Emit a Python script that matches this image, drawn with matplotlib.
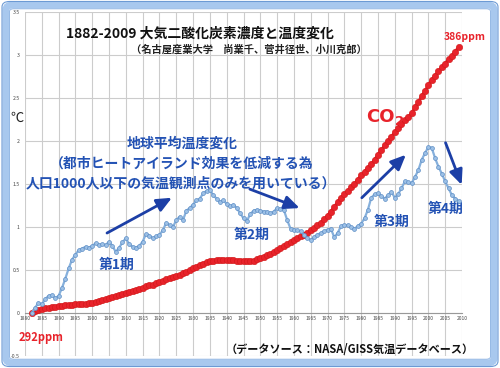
import numpy as np
import matplotlib
matplotlib.use('Agg')
import matplotlib.pyplot as plt
from matplotlib.patches import FancyBboxPatch

plt.rcParams['font.family'] = ['Noto Sans CJK JP', 'DejaVu Sans']

# Years 1882-2009
years = np.arange(1882, 2010)

# Global mean temperature change (chart units, deg C offset)
temp = [
    0.00, 0.06, 0.12, 0.10, 0.16, 0.20, 0.21, 0.17, 0.20, 0.29,
    0.40, 0.52, 0.62, 0.68, 0.73, 0.75, 0.77, 0.76, 0.78, 0.81,
    0.79, 0.80, 0.79, 0.83, 0.78, 0.71, 0.76, 0.82, 0.87, 0.80,
    0.77, 0.76, 0.78, 0.83, 0.92, 0.90, 0.87, 0.89, 0.91, 0.96,
    1.05, 1.02, 1.00, 1.08, 1.12, 1.08, 1.19, 1.22, 1.26, 1.31,
    1.33, 1.39, 1.42, 1.43, 1.37, 1.33, 1.29, 1.31, 1.27, 1.24,
    1.26, 1.22, 1.16, 1.10, 1.07, 1.15, 1.19, 1.20, 1.19, 1.18,
    1.18, 1.16, 1.18, 1.22, 1.21, 1.20, 1.08, 0.98, 0.97, 0.96,
    0.95, 0.91, 0.87, 0.85, 0.88, 0.91, 0.93, 0.95, 0.97, 0.98,
    0.88, 0.93, 1.01, 1.02, 1.02, 1.00, 0.98, 1.01, 1.04, 1.10,
    1.20, 1.34, 1.38, 1.39, 1.36, 1.33, 1.37, 1.41, 1.34, 1.38,
    1.45, 1.53, 1.52, 1.51, 1.58, 1.66, 1.78, 1.86, 1.93, 1.92,
    1.80, 1.70, 1.62, 1.53, 1.45, 1.37, 1.33, 1.30,
]

# Atmospheric CO2 (scaled to the same axis, 292ppm -> 0, 386ppm -> ~3.1)
co2 = [
    0.00, 0.02, 0.03, 0.045, 0.055, 0.06, 0.07, 0.075, 0.08, 0.085,
    0.09, 0.09, 0.095, 0.10, 0.10, 0.105, 0.11, 0.115, 0.12, 0.13,
    0.14, 0.15, 0.16, 0.17, 0.185, 0.20, 0.21, 0.225, 0.235, 0.25,
    0.26, 0.27, 0.28, 0.295, 0.31, 0.32, 0.33, 0.345, 0.36, 0.375,
    0.39, 0.405, 0.42, 0.43, 0.445, 0.46, 0.48, 0.50, 0.52, 0.54,
    0.56, 0.575, 0.59, 0.60, 0.61, 0.615, 0.62, 0.62, 0.62, 0.62,
    0.615, 0.61, 0.605, 0.60, 0.60, 0.605, 0.61, 0.625, 0.64, 0.655,
    0.67, 0.69, 0.71, 0.73, 0.755, 0.78, 0.805, 0.83, 0.85, 0.87,
    0.89, 0.91, 0.935, 0.96, 0.99, 1.02, 1.05, 1.09, 1.13, 1.18,
    1.23, 1.29, 1.34, 1.38, 1.42, 1.46, 1.50, 1.55, 1.60, 1.64,
    1.69, 1.73, 1.78, 1.84, 1.89, 1.95, 2.00, 2.05, 2.10, 2.15,
    2.20, 2.24, 2.28, 2.32, 2.39, 2.45, 2.52, 2.58, 2.65, 2.71,
    2.76, 2.81, 2.86, 2.90, 2.95, 2.99, 3.04, 3.09,
]

x_ticks = list(range(1880, 2011, 5))
y_ticks = [-0.5, 0, 0.5, 1, 1.5, 2, 2.5, 3, 3.5]
y_tick_labels = ['-0.5', '0', '0.5', '1', '1.5', '2', '2.5', '3', '3.5']

BLUE_TXT = '#2352b4'
ARROW = '#1c3fa6'
RED = '#e8232b'

fig = plt.figure(figsize=(5.0, 3.68), dpi=100)

# outer frame
fig.patches.append(FancyBboxPatch((0.012, 0.014), 0.976, 0.972,
                                  boxstyle='round,pad=0,rounding_size=0.012',
                                  transform=fig.transFigure, fill=False,
                                  edgecolor='#a8c8ee', linewidth=5))
fig.patches.append(FancyBboxPatch((0.004, 0.004), 0.992, 0.992,
                                  boxstyle='round,pad=0,rounding_size=0.015',
                                  transform=fig.transFigure, fill=False,
                                  edgecolor='#6c9ad4', linewidth=0.8))
fig.patches.append(FancyBboxPatch((0.019, 0.024), 0.962, 0.952,
                                  boxstyle='round,pad=0,rounding_size=0.008',
                                  transform=fig.transFigure, fill=False,
                                  edgecolor='#8cb2e2', linewidth=0.6))

ax = fig.add_axes([0.05, 0.0326, 0.874, 0.9348])
ax.set_xlim(1880, 2010)
ax.set_ylim(-0.5, 3.5)

# x axis sits on the zero line
for side in ['top', 'right', 'left']:
    ax.spines[side].set_visible(False)
ax.spines['bottom'].set_position(('data', 0))
ax.spines['bottom'].set_color('#999999')
ax.spines['bottom'].set_linestyle((0, (2, 1)))
ax.spines['bottom'].set_linewidth(0.8)

ax.set_xticks(x_ticks)
ax.set_xticklabels([str(y) for y in x_ticks])
ax.set_yticks(y_ticks)
ax.set_yticklabels(y_tick_labels)
ax.tick_params(axis='x', length=0, pad=2.5, labelsize=3.5, labelcolor='#444444')
ax.tick_params(axis='y', length=0, pad=4, labelsize=3.7, labelcolor='#444444')
ax.grid(True, color='#cccccc', linewidth=0.8)
ax.set_axisbelow(True)

# series
ax.plot(years, co2, color=RED, linewidth=2.2, marker='o', markersize=4.6,
        markerfacecolor=RED, markeredgecolor='#d01818', markeredgewidth=0.4, zorder=3)
ax.plot(years, temp, color='#86b0dc', linewidth=1.6, marker='o', markersize=2.8,
        markerfacecolor='#9cc0e6', markeredgecolor='#5f8fc6', markeredgewidth=0.5, zorder=4)

# arrows
arrows = [((1904.4, 0.93), (1923.7, 1.34)),
          ((1946.9, 1.44), (1961.7, 1.22)),
          ((1980.2, 1.34), (1993.3, 1.84)),
          ((2005.1, 1.98), (2009.9, 1.49))]
for tail, tip in arrows:
    ax.annotate('', xy=tip, xytext=tail,
                arrowprops=dict(arrowstyle='-|>,head_length=0.9,head_width=0.4',
                                color=ARROW, linewidth=2, shrinkA=0, shrinkB=0),
                zorder=5, annotation_clip=False)

# annotation texts
ax.text(1926.7, 1.97, '地球平均温度変化', ha='center', va='center',
        fontsize=10, fontweight='bold', color=BLUE_TXT)
ax.text(1926.7, 1.74, '（都市ヒートアイランド効果を低減する為', ha='center', va='center',
        fontsize=10, fontweight='bold', color=BLUE_TXT)
ax.text(1926.4, 1.51, '人口1000人以下の気温観測点のみを用いている）', ha='center', va='center',
        fontsize=10, fontweight='bold', color=BLUE_TXT)
ax.text(1907.3, 0.56, '第1期', ha='center', va='center', fontsize=10,
        fontweight='bold', color=BLUE_TXT)
ax.text(1947.5, 0.91, '第2期', ha='center', va='center', fontsize=10,
        fontweight='bold', color=BLUE_TXT)
ax.text(1989.1, 1.06, '第3期', ha='center', va='center', fontsize=10,
        fontweight='bold', color=BLUE_TXT)
ax.text(2005.1, 1.21, '第4期', ha='center', va='center', fontsize=10,
        fontweight='bold', color=BLUE_TXT)

ax.text(1990.0, 2.28, 'CO', ha='right', va='center', fontsize=13,
        fontweight='bold', color=RED, family='DejaVu Sans', zorder=6)
ax.text(1990.2, 2.23, '2', ha='left', va='center', fontsize=9.5,
        fontweight='bold', color=RED, family='DejaVu Sans', zorder=6)
ax.text(2010.8, 3.21, '386ppm', ha='center', va='center', fontsize=7.5,
        fontweight='bold', color=RED, clip_on=False)
ax.text(1884.8, -0.29, '292ppm', ha='center', va='center', fontsize=8,
        fontweight='bold', color=RED, clip_on=False)
ax.text(1976.6, -0.42, '（データソース：NASA/GISS気温データベース）', ha='center',
        va='center', fontsize=8, fontweight='bold', color='#111111')

# titles
fig.text(0.40, 0.910, '1882-2009 大気二酸化炭素濃度と温度変化', ha='center', va='center',
         fontsize=10, fontweight='bold', color='#111111')
fig.text(0.498, 0.864, '（名古屋産業大学　尚業千、菅井径世、小川克郎）', ha='center',
         va='center', fontsize=7.4, fontweight='bold', color='#222222')
fig.text(0.034, 0.679, '℃', ha='center', va='center', fontsize=9.5, color='#222222')

fig.savefig('out.png', dpi=100)
